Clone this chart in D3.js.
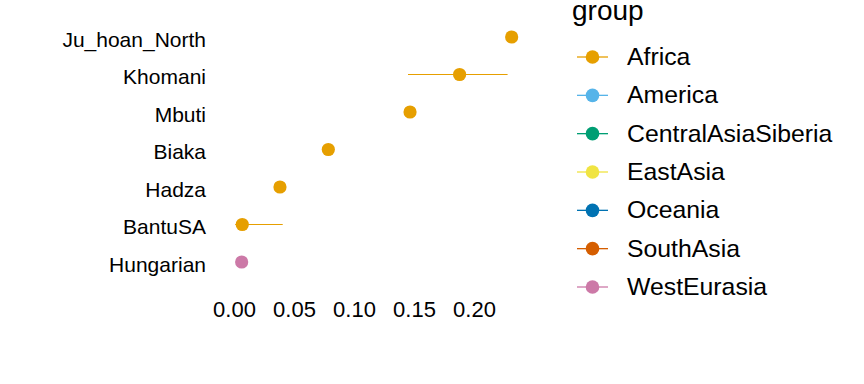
<!DOCTYPE html>
<html>
<head>
<meta charset="utf-8">
<script src="https://cdn.jsdelivr.net/npm/d3@7"></script>
<style>
  body { margin: 0; background: #fff; }
  text { font-family: "Liberation Sans", Arial, sans-serif; fill: #000; }
</style>
</head>
<body>
<svg id="chart" width="864" height="384"></svg>
<script>
// populations, top to bottom
var pops = ["Ju_hoan_North", "Khomani", "Mbuti", "Biaka", "Hadza", "BantuSA", "Hungarian"];
var popGroup = ["Africa", "Africa", "Africa", "Africa", "Africa", "Africa", "WestEurasia"];
var estimate = [0.2314, 0.188, 0.1467, 0.0786, 0.0383, 0.0069, 0.0064];
var lower = [null, 0.145, null, null, null, 0.001, null];
var upper = [null, 0.228, null, null, null, 0.0406, null];

var groups = ["Africa", "America", "CentralAsiaSiberia", "EastAsia", "Oceania", "SouthAsia", "WestEurasia"];
var groupColors = ["#E69F00", "#56B4E9", "#009E73", "#F0E442", "#0072B2", "#D55E00", "#CC79A7"];
var xTicks = [0, 0.05, 0.1, 0.15, 0.2];

var svg = d3.select("#chart");
var color = d3.scaleOrdinal().domain(groups).range(groupColors);

var x = d3.scaleLinear().domain([0, 0.2]).range([234, 474]);
var y = d3.scalePoint().domain(pops).range([37, 262]);

var rows = pops.map(function (p, i) {
    return { pop: p, group: popGroup[i], est: estimate[i], lo: lower[i], hi: upper[i] };
});

// x axis labels only
var xAxis = svg.append("g")
    .attr("transform", "translate(0,317)")
    .call(d3.axisBottom(x).tickValues(xTicks).tickFormat(d3.format(".2f")).tickSize(0).tickPadding(0));
xAxis.select(".domain").remove();
xAxis.selectAll("text")
    .attr("dy", 0)
    .attr("y", 0)
    .style("font-size", "22px")
    .style("font-family", "Liberation Sans, Arial, sans-serif")
    .attr("fill", "#000");

// y axis labels only
var yAxis = svg.append("g")
    .attr("transform", "translate(206,0)")
    .call(d3.axisLeft(y).tickSize(0).tickPadding(0));
yAxis.select(".domain").remove();
yAxis.selectAll("text")
    .attr("dy", "0.45em")
    .style("font-size", "21px")
    .style("font-family", "Liberation Sans, Arial, sans-serif")
    .attr("fill", "#000");

// error bars
svg.append("g").selectAll("line")
    .data(rows.filter(function (d) { return d.lo != null; }))
    .join("line")
    .attr("x1", function (d) { return x(d.lo); })
    .attr("x2", function (d) { return x(d.hi); })
    .attr("y1", function (d) { return y(d.pop); })
    .attr("y2", function (d) { return y(d.pop); })
    .attr("stroke", function (d) { return color(d.group); })
    .attr("stroke-width", 1.1);

// points
svg.append("g").selectAll("circle")
    .data(rows)
    .join("circle")
    .attr("cx", function (d) { return x(d.est); })
    .attr("cy", function (d) { return y(d.pop); })
    .attr("r", 6.6)
    .attr("fill", function (d) { return color(d.group); });

// legend
var legend = svg.append("g");
legend.append("text")
    .attr("x", 572)
    .attr("y", 20)
    .style("font-size", "28px")
    .text("group");

var ly = d3.scalePoint().domain(groups).range([57, 287]);
var item = legend.selectAll("g.item")
    .data(groups)
    .join("g")
    .attr("class", "item")
    .attr("transform", function (d) { return "translate(0," + ly(d) + ")"; });
item.append("line")
    .attr("x1", 577).attr("x2", 608)
    .attr("stroke", function (d) { return color(d); })
    .attr("stroke-width", 1.3);
item.append("circle")
    .attr("cx", 592.5)
    .attr("r", 6.8)
    .attr("fill", function (d) { return color(d); });
item.append("text")
    .attr("x", 627)
    .attr("y", 8)
    .style("font-size", "24.8px")
    .text(function (d) { return d; });
</script>
</body>
</html>
